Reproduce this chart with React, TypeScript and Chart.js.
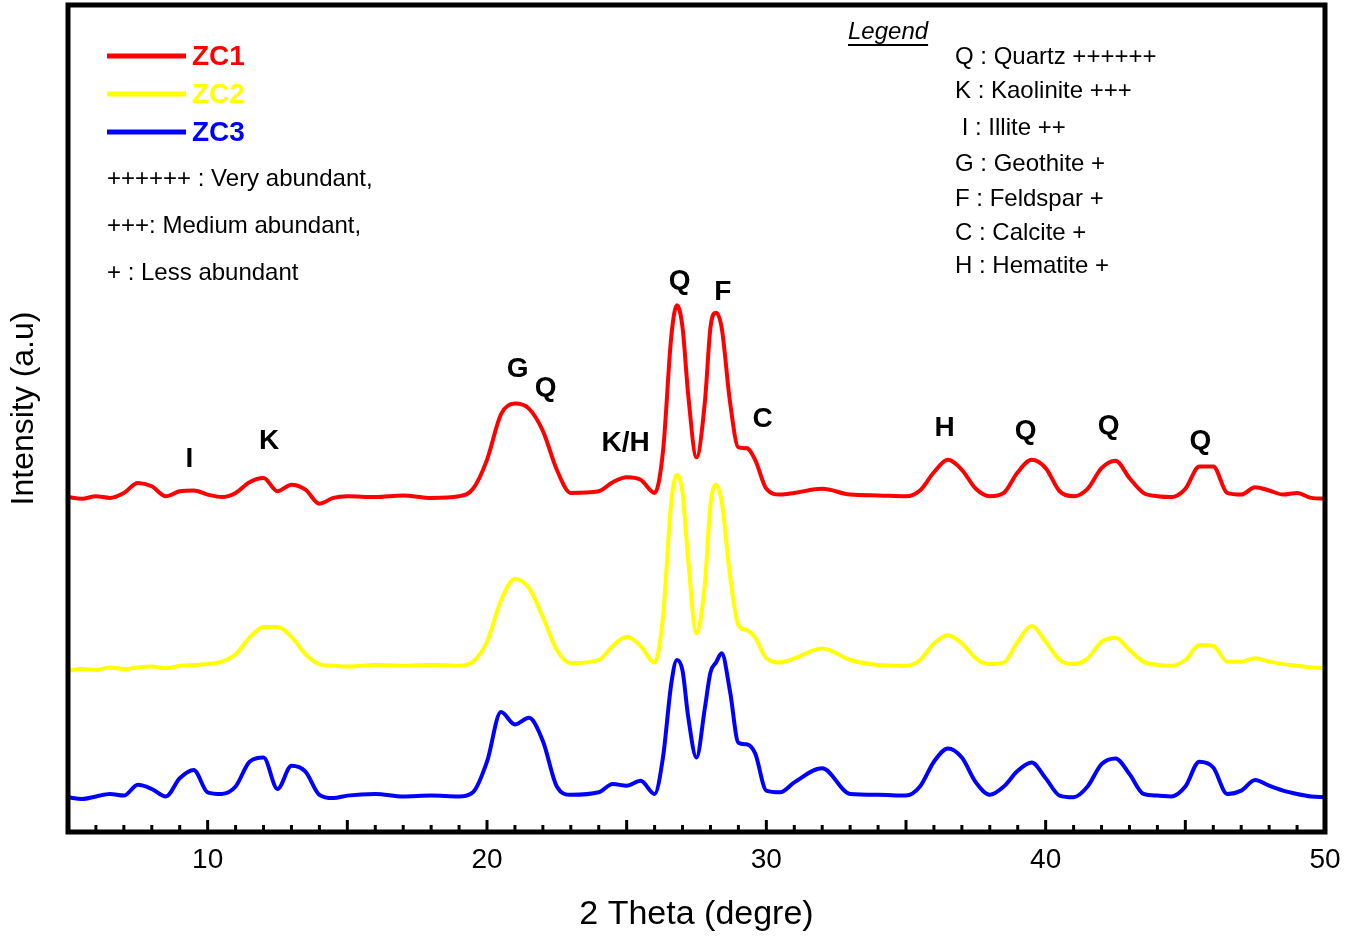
import React, { useEffect, useRef } from "react";
import { Chart, registerables } from "chart.js";
Chart.register(...registerables);

const thetas = [5,5.5,6,6.5,7,7.5,8,8.5,9,9.5,10,10.5,11,11.5,12,12.5,13,13.5,14,14.5,15,16,17,18,19,19.5,20,20.5,21,21.5,22,22.5,23,24,24.5,25,25.5,26,26.3,26.6,26.8,27,27.2,27.5,27.8,28,28.2,28.4,28.7,29,29.3,29.6,30,30.5,31,32,33,34,35,35.5,36,36.5,37,37.5,38,38.5,39,39.5,40,40.5,41,41.5,42,42.5,43,43.5,44,44.5,45,45.5,46,46.5,47,47.5,48,48.5,49,49.5,50];
const zc1 = [40.5,40.3,40.6,40.4,41,42.2,41.8,40.6,41.2,41.3,40.8,40.5,41,42.3,42.8,41.2,42,41.4,39.7,40.4,40.6,40.5,40.7,40.4,40.6,41.5,45,50.5,51.8,51.2,48.5,43.8,41,41.2,42.3,42.9,42.6,41,46,60,63.7,61,53,45.3,52,61,62.8,61,52,46.5,46.4,45,41.5,40.8,41,41.5,40.8,40.7,40.6,41.3,43.5,45,43.8,41.5,40.6,41,43.5,45,44,41.2,40.6,41.5,44,44.9,42.8,41,40.6,40.5,41.5,44.2,44.2,41,40.8,41.7,41.3,40.8,41,40.4,40.3];
const zc2 = [19.5,19.7,19.6,19.9,19.7,19.9,20,19.8,20.1,20.2,20.3,20.6,21.5,23.5,24.8,24.8,23.6,21.5,20.3,20.1,20,20.2,20.1,20.2,20.1,20.6,23,28,30.6,29.5,26,22,20.4,20.8,22.5,23.6,22.5,20.5,26,40,43.2,41,33,24,30,39.5,42,40,31,25,24.4,23.5,21,20.5,21,22.2,20.8,20.2,20.1,20.8,22.8,23.8,22.8,21,20.3,20.5,23,24.9,23,20.8,20.3,21,23,23.5,22,20.6,20.2,20.1,20.8,22.6,22.5,20.6,20.6,21,20.6,20.3,20.1,19.9,19.8];
const zc3 = [4.2,4.0,4.3,4.6,4.4,5.7,5.2,4.3,6.5,7.5,4.8,4.6,5.5,8.5,9,5.2,8,7.3,4.5,4.1,4.4,4.6,4.3,4.4,4.3,4.8,8.5,14.5,13,13.8,11,5.5,4.5,4.8,5.8,5.6,6.2,4.6,9,18,20.8,19.5,14,9,15,19.3,20.5,21.6,17,10.8,10.6,9.5,5,4.8,6,7.7,4.6,4.5,4.4,5.5,8.5,10.1,9,6,4.5,5.5,7.4,8.4,6.5,4.4,4.2,5.5,8.2,8.9,7,4.6,4.4,4.3,5.5,8.5,7.8,4.6,5,6.3,5.6,5,4.6,4.3,4.2];

const peakLabels = ["I","K","G","Q","K/H","Q","F","C","H","Q","Q","Q"];
const peakX = [9.35,12.2,21.1,22.1,24.96,26.9,28.44,29.87,36.38,39.28,42.25,45.54];
const peakY = [45.1,47.2,55.9,53.7,47.0,66.6,65.3,49.9,48.8,48.4,49.1,47.2];

const seriesNames = ["ZC1","ZC2","ZC3"];
const seriesColors = ["#ff0000","#ffff00","#0000ff"];
const abundanceNotes = ["++++++ : Very abundant,","+++: Medium abundant,","+ : Less abundant"];
const mineralNotes = ["Q : Quartz ++++++","K : Kaolinite +++"," I : Illite ++","G : Geothite +","F : Feldspar +","C : Calcite +","H : Hematite +"];

const FONT = "'Liberation Sans', Arial, sans-serif";

const overlay = {
  id: "overlay",
  afterDraw(chart: any) {
    const ctx = chart.ctx;
    const xs = chart.scales.x, ys = chart.scales.y;
    const a = chart.chartArea;
    ctx.save();
    // minor ticks
    ctx.strokeStyle = "#000";
    for (let v = 5; v <= 50; v++) {
      const px = xs.getPixelForValue(v);
      ctx.lineWidth = 3;
      ctx.beginPath();
      ctx.moveTo(px, a.bottom);
      ctx.lineTo(px, a.bottom - (v % 5 === 0 ? 12 : 7));
      ctx.stroke();
    }
    // frame
    ctx.lineWidth = 5;
    ctx.strokeRect(a.left, a.top, a.right - a.left, a.bottom - a.top);
    // peak labels
    ctx.fillStyle = "#000";
    ctx.font = `bold 28px ${FONT}`;
    ctx.textAlign = "center";
    ctx.textBaseline = "middle";
    peakLabels.forEach((t, i) => ctx.fillText(t, xs.getPixelForValue(peakX[i]), ys.getPixelForValue(peakY[i])));
    // series legend
    seriesNames.forEach((n, i) => {
      const y = 56 + i * 38;
      ctx.strokeStyle = seriesColors[i];
      ctx.lineWidth = 5;
      ctx.beginPath(); ctx.moveTo(107, y); ctx.lineTo(186, y); ctx.stroke();
      ctx.fillStyle = seriesColors[i];
      ctx.font = `bold 28px ${FONT}`;
      ctx.textAlign = "left";
      ctx.fillText(n, 192, y + 1);
    });
    ctx.fillStyle = "#000";
    ctx.font = `24px ${FONT}`;
    ctx.textAlign = "left";
    abundanceNotes.forEach((t, i) => ctx.fillText(t, 107, 179 + i * 47));
    // right legend
    ctx.font = `italic 24px ${FONT}`;
    ctx.fillText("Legend", 848, 32);
    const w = ctx.measureText("Legend").width;
    ctx.lineWidth = 2; ctx.strokeStyle = "#000";
    ctx.beginPath(); ctx.moveTo(848, 45); ctx.lineTo(848 + w, 45); ctx.stroke();
    ctx.font = `24px ${FONT}`;
    const ys2 = [57, 91, 128, 164, 199, 233, 266];
    mineralNotes.forEach((t, i) => ctx.fillText(t, 955, ys2[i]));
    // axis titles
    ctx.font = `34px ${FONT}`;
    ctx.textAlign = "center";
    ctx.fillText("2 Theta (degre)", (a.left + a.right) / 2, 915);
    ctx.translate(24, (a.top + a.bottom) / 2 - 10);
    ctx.rotate(-Math.PI / 2);
    ctx.font = `32px ${FONT}`;
    ctx.fillText("Intensity (a.u)", 0, 0);
    ctx.restore();
  },
};

export default function App() {
  const ref = useRef<HTMLCanvasElement>(null);
  useEffect(() => {
    document.body.style.margin = "0";
    const mk = (d: number[]) => thetas.map((x, i) => ({ x, y: d[i] }));
    const chart = new Chart(ref.current!, {
      type: "line",
      data: {
        datasets: [zc1, zc2, zc3].map((d, i) => ({
          label: seriesNames[i],
          data: mk(d),
          borderColor: seriesColors[i],
          borderWidth: 4,
          pointRadius: 0,
          tension: 0.4,
          cubicInterpolationMode: "monotone" as const,
          fill: false,
        })),
      },
      options: {
        animation: false,
        responsive: false,
        layout: { padding: { left: 0, right: 21, top: 5, bottom: 0 } },
        plugins: { legend: { display: false }, tooltip: { enabled: false } },
        scales: {
          x: {
            type: "linear", min: 5, max: 50,
            grid: { display: false }, border: { display: false },
            ticks: { stepSize: 5, autoSkip: false, color: "#000", font: { size: 28, family: FONT },
              callback: (v: any) => (v % 10 === 0 ? String(v) : "") },
            afterFit: (s: any) => { s.height = 111; },
          },
          y: {
            min: 0, max: 100,
            grid: { display: false }, border: { display: false },
            ticks: { display: false },
            afterFit: (s: any) => { s.width = 68; },
          },
        },
      },
      plugins: [overlay],
    });
    return () => chart.destroy();
  }, []);
  return <canvas ref={ref} width={1346} height={943} style={{ display: "block" }} />;
}
